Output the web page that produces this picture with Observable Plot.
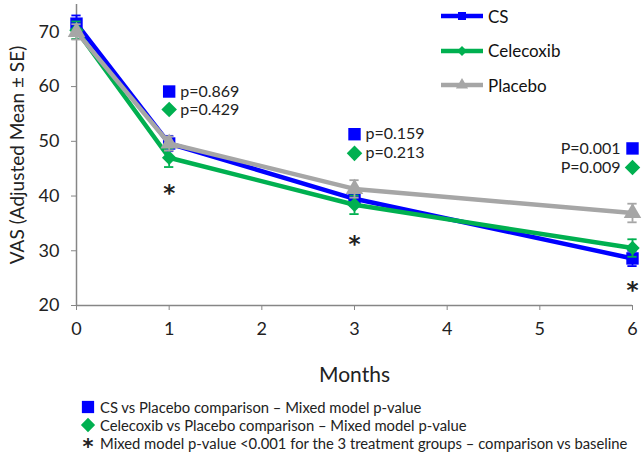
<!DOCTYPE html>
<html>
<head>
<meta charset="utf-8">
<script src="https://cdn.jsdelivr.net/npm/d3@7"></script>
<script src="https://cdn.jsdelivr.net/npm/@observablehq/plot@0.6"></script>
<style>
  html, body { margin: 0; padding: 0; background: #fff; }
  body { width: 644px; height: 460px; position: relative; font-family: Lato, "Open Sans", sans-serif; overflow: hidden; }
  #chart { position: absolute; left: 0; top: 0; }
  #legend { position: absolute; left: 440px; top: -1px; font-size: 17px; color: #111; }
  #legend .row { display: flex; align-items: center; height: 34.5px; }
  #legend svg { margin-right: 4px; }
  #notes { position: absolute; left: 76px; top: 398px; font-size: 14.8px; color: #222; }
  #notes .row { display: flex; align-items: center; height: 18px; }
  #notes .sym { width: 24px; display: flex; justify-content: center; align-items: center; }
</style>
</head>
<body>
<div id="chart"></div>
<div id="legend"></div>
<div id="notes"></div>
<script>
// ---- data ----
const months = [0, 1, 3, 6];
const seriesNames = ["CS", "Celecoxib", "Placebo"];
const seriesColors = ["#0000ff", "#00b050", "#a6a6a6"];
const seriesSymbols = ["square", "diamond2", "triangle"];
const csMean = [71.5, 49.6, 39.5, 28.6];
const csSE = [1.5, 1.4, 1.3, 1.4];
const celecoxibMean = [70.3, 47.0, 38.4, 30.5];
const celecoxibSE = [1.6, 1.7, 1.7, 1.6];
const placeboMean = [70.0, 49.6, 41.3, 36.9];
const placeboSE = [1.4, 1.3, 1.6, 1.7];
const xTicks = [0, 1, 2, 3, 4, 5, 6];
const yTicks = [20, 30, 40, 50, 60, 70];

// p-value annotations
const pMonths = [1, 3, 6];
const csPLabels = ["p=0.869", "p=0.159", "P=0.001"];
const csPLevel = [59.1, 51.3, 48.7];
const celecoxibPLabels = ["p=0.429", "p=0.213", "P=0.009"];
const celecoxibPLevel = [55.8, 47.8, 45.2];
// baseline comparison asterisks
const starMonths = [1, 3, 6];
const starLevel = [40.4, 31.1, 22.8];

const footnotes = [
  "CS vs Placebo comparison \u2013 Mixed model p-value",
  "Celecoxib vs Placebo comparison \u2013 Mixed model p-value",
  "Mixed model p-value <0.001 for the 3 treatment groups \u2013 comparison vs baseline"
];

// ---- build table ----
const means = [csMean, celecoxibMean, placeboMean];
const ses = [csSE, celecoxibSE, placeboSE];
const rows = [];
seriesNames.forEach((s, i) => months.forEach((m, j) => rows.push({
  series: s, month: m, mean: means[i][j], lo: means[i][j] - ses[i][j], hi: means[i][j] + ses[i][j]
})));
const annot = [];
pMonths.forEach((m, j) => {
  const right = m === 6;
  annot.push({month: m, y: csPLevel[j], label: csPLabels[j], series: "CS", right});
  annot.push({month: m, y: celecoxibPLevel[j], label: celecoxibPLabels[j], series: "Celecoxib", right});
});
const stars = starMonths.map((m, j) => ({month: m, y: starLevel[j]}));

const capW = 0.05;

const marks = [
  Plot.ruleY([20], {stroke: "#868686", strokeWidth: 1.5}),
  Plot.ruleX([0], {y1: 20, y2: 75, stroke: "#868686", strokeWidth: 1.5}),
  Plot.axisX({ticks: xTicks, tickFormat: d3.format("d"), tickSize: 5, tickPadding: 12, stroke: "#868686", fontSize: 18, color: "#222",
    label: "Months", labelAnchor: "center", labelArrow: "none", labelOffset: 76}),
  Plot.axisY({ticks: yTicks, tickSize: 5, tickPadding: 12, stroke: "#868686", fontSize: 18, color: "#222",
    label: "VAS (Adjusted Mean \u00b1 SE)", labelAnchor: "center", labelArrow: "none", labelOffset: 66})
];
seriesNames.forEach((s, i) => {
  const d = rows.filter(r => r.series === s);
  marks.push(
    Plot.ruleX(d, {x: "month", y1: "lo", y2: "hi", stroke: seriesColors[i], strokeWidth: 1.8}),
    Plot.ruleY(d, {y: "hi", x1: r => r.month - capW, x2: r => r.month + capW, stroke: seriesColors[i], strokeWidth: 1.8}),
    Plot.ruleY(d, {y: "lo", x1: r => r.month - capW, x2: r => r.month + capW, stroke: seriesColors[i], strokeWidth: 1.8}),
    Plot.line(d, {x: "month", y: "mean", stroke: seriesColors[i], strokeWidth: 4.5}),
    Plot.dot(d, {x: "month", y: "mean", symbol: () => seriesSymbols[i], fill: seriesColors[i], r: i === 0 ? 7 : 6.5, stroke: "none"})
  );
});
marks.push(
  Plot.dot(annot, {x: "month", y: "y", fill: "series", symbol: "series", r: 7, stroke: "none"}),
  Plot.text(annot.filter(a => !a.right), {x: "month", y: "y", text: "label", textAnchor: "start", dx: 11, fontSize: 16, fill: "#222"}),
  Plot.text(annot.filter(a => a.right), {x: "month", y: "y", text: "label", textAnchor: "end", dx: -12, fontSize: 16, fill: "#222"}),
  Plot.text(stars, {x: "month", y: "y", text: () => "*", fontSize: 23, fontWeight: "bold", fontFamily: "DejaVu Sans", fill: "#222"})
);

const chart = Plot.plot({
  width: 644,
  height: 392,
  marginLeft: 76,
  marginRight: 12,
  marginTop: 4,
  marginBottom: 87,
  style: {fontFamily: "Lato, 'Open Sans', sans-serif", background: "#fff", overflow: "visible"},
  x: {domain: [0, 6]},
  y: {domain: [20, 75]},
  color: {domain: seriesNames, range: seriesColors},
  symbol: {domain: seriesNames, range: seriesSymbols},
  marks
});
chart.querySelectorAll("[aria-label='y-axis label'] text, [aria-label='x-axis label'] text").forEach(t => t.setAttribute("fill", "#222"));
document.getElementById("chart").appendChild(chart);
const yl = chart.querySelector("[aria-label='y-axis label']");
if (yl) yl.setAttribute("font-size", "19");
const xl = chart.querySelector("[aria-label='x-axis label']");
if (xl) xl.setAttribute("font-size", "21");

// ---- top-right legend ----
const d3Symbols = {square: d3.symbolSquare, diamond2: d3.symbolDiamond2, triangle: d3.symbolTriangle};
const legend = d3.select("#legend");
seriesNames.forEach((s, i) => {
  const row = legend.append("div").attr("class", "row");
  const svg = row.append("svg").attr("width", 44).attr("height", 16);
  svg.append("line").attr("x1", 1).attr("x2", 43).attr("y1", 8).attr("y2", 8)
    .attr("stroke", seriesColors[i]).attr("stroke-width", 4.5);
  svg.append("path").attr("transform", "translate(22,8)")
    .attr("d", d3.symbol(d3Symbols[seriesSymbols[i]], 64)())
    .attr("fill", seriesColors[i]);
  row.append("span").text(s);
});

// ---- footnotes ----
const notes = d3.select("#notes");
footnotes.forEach((t, i) => {
  const row = notes.append("div").attr("class", "row");
  const sym = row.append("div").attr("class", "sym");
  if (i < 2) {
    const svg = sym.append("svg").attr("width", 18).attr("height", 18);
    svg.append("path").attr("transform", "translate(9,9)")
      .attr("d", d3.symbol(d3Symbols[seriesSymbols[i]], i === 0 ? 150 : 130)())
      .attr("fill", seriesColors[i]);
  } else {
    sym.append("span").style("font-size", "21px").style("font-weight", "bold").style("font-family", "DejaVu Sans").style("line-height", "18px")
      .style("position", "relative").style("top", "4px").text("*");
  }
  row.append("span").text(t);
});
</script>
</body>
</html>
